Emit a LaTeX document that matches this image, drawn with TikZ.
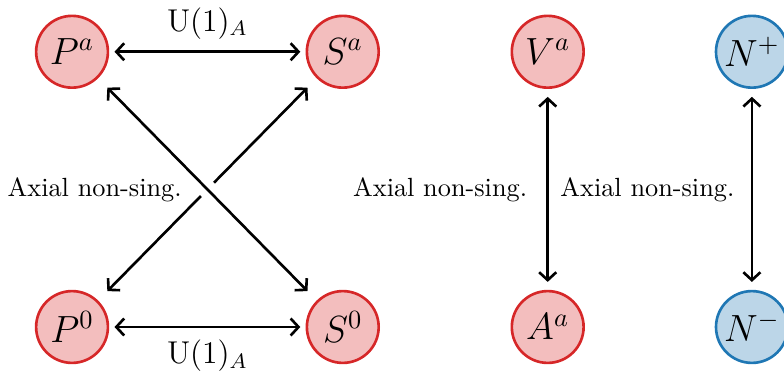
\documentclass[tikz,border=0pt]{standalone}
\usepackage{amsmath}
\usetikzlibrary{arrows.meta, positioning}
\definecolor{tabred}{HTML}{D62728}
\definecolor{tabblue}{HTML}{1F77B4}

\begin{document}
\begin{tikzpicture}[
    redstate/.style={circle, draw=tabred, fill=tabred!30, line width=1pt, minimum size=0.96cm, inner sep=0pt, font=\Large},
    bluestate/.style={circle, draw=tabblue, fill=tabblue!30, line width=1pt, minimum size=0.96cm, inner sep=0pt, font=\Large},
    link/.style={{Straight Barb[length=3pt,width=6.5pt]}-{Straight Barb[length=3pt,width=6.5pt]}, line width=1pt, shorten <=2pt, shorten >=2pt},
]
    \useasboundingbox (-0.963,-0.722) rectangle (9.519,4.372);

    % 左边四个态
    \node[redstate] (Pa) at (0,3.68) {$P^a$};
    \node[redstate] (Sa) at (3.62,3.68) {$S^a$};
    \node[redstate] (P0) at (0,0) {$P^0$};
    \node[redstate] (S0) at (3.62,0) {$S^0$};

    % 右边
    \node[redstate] (Va) at (6.36,3.68) {$V^a$};
    \node[redstate] (Aa) at (6.36,0) {$A^a$};
    \node[bluestate] (Np) at (9.09,3.68) {$N^+$};
    \node[bluestate] (Nm) at (9.09,0) {$N^-$};

    % U(1)_A 变换
    \draw[link] (Pa) -- (Sa) node[midway, above=1pt, font=\large] {$\mathrm{U}(1)_A$};
    \draw[link] (P0) -- (S0) node[midway, below=1pt, font=\large] {$\mathrm{U}(1)_A$};

    % 交叉线（上面一条带白边）
    \draw[link, shorten <=5pt, shorten >=5pt] (P0) -- (Sa);
    \draw[link, shorten <=5pt, shorten >=5pt, preaction={draw=white, line width=7pt, -}] (Pa) -- (S0);
    \coordinate (X) at (1.81,1.84);
    \node[left=0.22cm of X] (axL) {Axial non-sing.};

    % 竖直线
    \draw[link, shorten <=3pt, shorten >=3pt] (Va) -- (Aa)
        node[midway, left=4pt] {Axial non-sing.}
        node[midway, right=1pt] {Axial non-sing.};
    \draw[link, shorten <=3pt, shorten >=3pt] (Np) -- (Nm);
\end{tikzpicture}
\end{document}
